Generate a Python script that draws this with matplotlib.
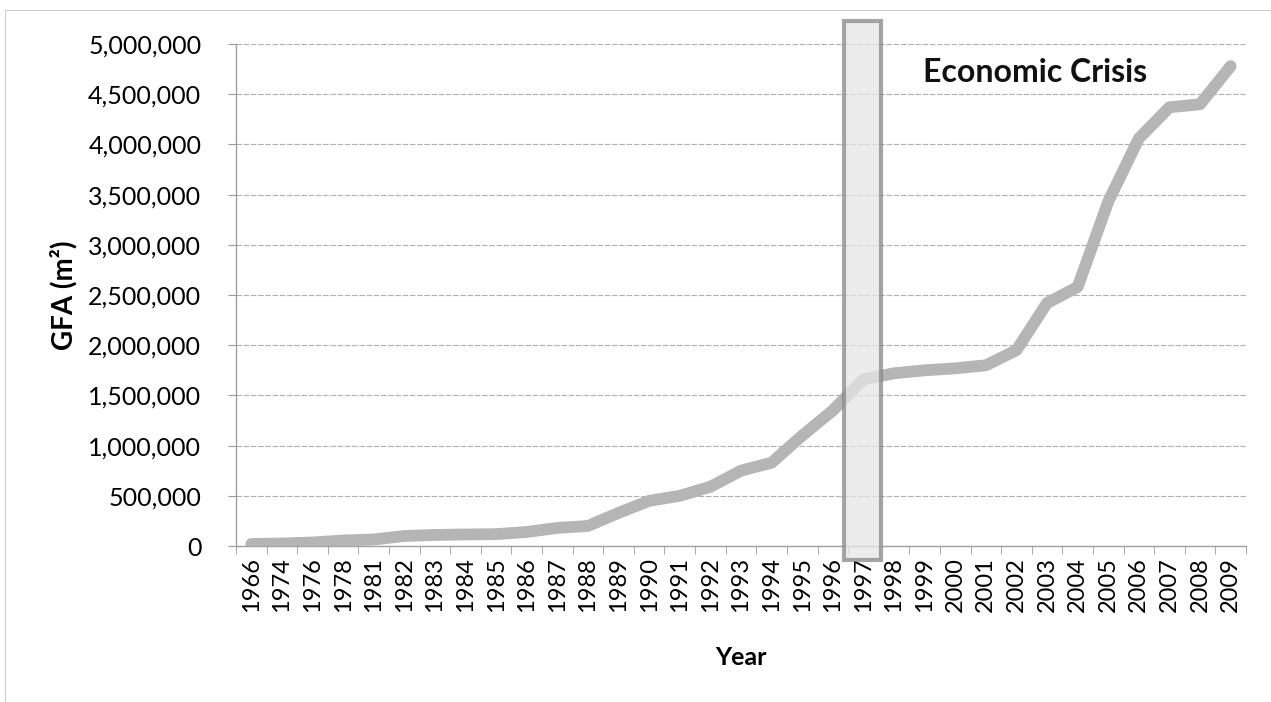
import numpy as np
import matplotlib.pyplot as plt
from matplotlib.patches import Rectangle
from matplotlib.lines import Line2D
from matplotlib.ticker import FuncFormatter, FixedLocator

YEARS = ["1966", "1974", "1976", "1978", "1981", "1982", "1983", "1984", "1985",
         "1986", "1987", "1988", "1989", "1990", "1991", "1992", "1993", "1994",
         "1995", "1996", "1997", "1998", "1999", "2000", "2001", "2002", "2003",
         "2004", "2005", "2006", "2007", "2008", "2009"]
GFA = [20_000, 25_000, 35_000, 55_000, 65_000, 100_000, 110_000, 115_000, 118_000,
       140_000, 180_000, 200_000, 330_000, 450_000, 500_000, 590_000, 750_000, 830_000,
       1_100_000, 1_350_000, 1_660_000, 1_720_000, 1_750_000, 1_770_000, 1_800_000,
       1_950_000, 2_420_000, 2_580_000, 3_430_000, 4_060_000, 4_370_000, 4_400_000,
       4_780_000]
CRISIS_YEAR = "1997"

FONT = ["Lato", "DejaVu Sans"]
plt.rcParams["font.family"] = FONT

fig = plt.figure(figsize=(12.71, 7.02), dpi=100)
ax = fig.add_axes([0.1857, 0.2222, 0.7946, 0.7151])

x = np.arange(len(YEARS))
ax.plot(x, GFA, color="#b5b5b5", lw=8.5, solid_capstyle="round",
        solid_joinstyle="round", zorder=3)

ax.set_xlim(-0.5, len(YEARS) - 0.5)
ax.set_ylim(0, 5_000_000)
ax.set_yticks(np.arange(0, 5_000_001, 500_000))
ax.yaxis.set_major_formatter(FuncFormatter(lambda v, p: f"{int(v):,}"))
ax.grid(axis="y", color="#b0b0b0", lw=0.8, ls=(0, (5, 1.5)))
ax.set_axisbelow(True)

ax.set_xticks(x)
ax.set_xticklabels(YEARS, rotation=90)
ax.xaxis.set_minor_locator(FixedLocator(np.arange(-0.5, len(YEARS), 1)))
ax.tick_params(axis="x", which="major", length=0, labelsize=17, pad=8)
ax.tick_params(axis="x", which="minor", length=6, color="#999999")
ax.tick_params(axis="y", length=6, color="#999999", labelsize=18, pad=19)

for side in ["top", "right"]:
    ax.spines[side].set_visible(False)
for side in ["left", "bottom"]:
    ax.spines[side].set_color("#a0a0a0")
    ax.spines[side].set_linewidth(1.0)

ax.set_ylabel("GFA (m²)", fontsize=20, fontweight="bold", labelpad=8)
ax.set_xlabel("Year", fontsize=18, fontweight="bold", labelpad=24)

# crisis highlight box
ci = YEARS.index(CRISIS_YEAR)
box = Rectangle((ci - 0.62, -140_000), 1.2, 5_370_000, facecolor="#e6e6e6",
                edgecolor="#888888", lw=3, alpha=0.75, clip_on=False, zorder=4)
ax.add_patch(box)
ax.text(ci + 5.6, 4_720_000, "Economic Crisis", fontsize=23, fontweight="bold",
        ha="center", va="center", color="#111111")

# scan border
fig.add_artist(Line2D([0.004, 1.0], [0.986, 0.986], color="#cccccc", lw=0.8))
fig.add_artist(Line2D([0.004, 0.004], [0.0, 0.986], color="#cccccc", lw=0.8))

fig.savefig("out.png", dpi=100)
